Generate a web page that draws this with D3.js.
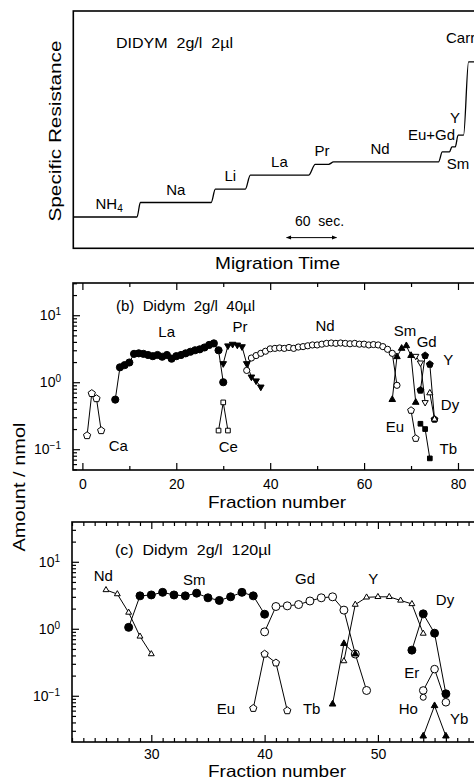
<!DOCTYPE html>
<html>
<head>
<meta charset="utf-8">
<script src="https://cdn.jsdelivr.net/npm/d3@7"></script>
<style>
  body { margin: 0; background: #fff; }
  svg { display: block; font-family: "Liberation Sans", Arial, Helvetica, sans-serif; }
</style>
</head>
<body>
<script>
// ---- (a) isotachopherogram: zones of the resistance trace ----
const zoneIons  = ['NH4', 'Na', 'Li', 'La', 'Pr', 'Nd', 'Sm', 'Eu+Gd', 'Y', 'Carrier']
const zoneStart = [0, 80.5, 170.5, 212.5, 290.5, 312.5, 443, 454.5, 462, 474.5]   // sec
const zoneEnd   = [76.5, 165.5, 206.5, 282.5, 306.5, 438.5, 451.5, 458.5, 468.5, 520]
const zoneLevel = [13.2, 19.3, 24.9, 30.8, 35.4, 36.4, 40.6, 42.7, 47.7, 78.6]     // arb. units
const scaleBarSec = [256, 316]

// ---- (b) Didym 2g/l 40ul : [fraction, amount nmol] ----
const caB = [[1, 0.16], [2, 0.68], [3, 0.57], [4, 0.19]]
const laB = [[7, 0.55], [8, 1.67], [9, 1.8], [10, 1.97], [11, 2.65], [12, 2.7], [13, 2.65], [14, 2.55],
             [15, 2.45], [16, 2.55], [17, 2.4], [18, 2.55], [19, 2.25], [20, 2.45], [21, 2.55], [22, 2.7],
             [23, 2.85], [24, 3.0], [25, 3.1], [26, 3.3], [27, 3.6], [28, 3.8], [29, 3.0], [30, 1.0]]
const ceB = [[29, 0.19], [30, 0.5], [31, 0.19]]
const prB = [[30, 1.9], [31, 3.5], [32, 3.7], [33, 3.6], [34, 3.4], [35, 1.9], [36, 1.2], [37, 1.05], [38, 0.85]]
const ndB = [[35, 1.5], [36, 2.3], [37, 2.5], [38, 2.7], [39, 2.9], [40, 3.15], [41, 3.2], [42, 3.25], [43, 3.2],
             [44, 3.3], [45, 3.2], [46, 3.35], [47, 3.4], [48, 3.5], [49, 3.6], [50, 3.6], [51, 3.7], [52, 3.8],
             [53, 3.85], [54, 3.8], [55, 3.85], [56, 3.8], [57, 3.75], [58, 3.8], [59, 3.7], [60, 3.7],
             [61, 3.6], [62, 3.65], [63, 3.6], [64, 3.4], [65, 3.1], [66, 2.7], [67, 0.9]]
const smB = [[66, 0.55], [67, 2.4], [68, 3.2], [69, 3.5], [70, 2.5], [71, 0.5]]
const gdB = [[71, 2.45], [72, 1.95], [73, 0.5]]
const gd2B = [[72, 0.76], [73, 2.5]]
const euB = [[70, 0.38], [71, 0.145]]
const tbB = [[72, 0.24], [73, 0.2], [74, 0.073]]
const yB  = [[74, 1.85], [75, 0.28]]
const dyB = [[74, 0.69], [75, 0.28]]

// ---- (c) Didym 2g/l 120ul ----
const ndC = [[26, 3.8], [27, 3.3], [28, 1.75], [29, 0.77], [30, 0.42]]
const smC = [[28, 1.05], [29, 3.1], [30, 3.2], [31, 3.5], [32, 3.2], [33, 3.1], [34, 3.4], [35, 2.9],
             [36, 2.65], [37, 3.0], [38, 3.5], [39, 3.1], [40, 1.65]]
const gdC = [[40, 0.9], [41, 2.15], [42, 2.2], [43, 2.3], [44, 2.6], [45, 2.9], [46, 3.0], [47, 1.9], [48, 0.42], [49, 0.12]]
const euC = [[39, 0.065], [40, 0.42], [41, 0.31], [42, 0.06]]
const tbC = [[46, 0.075], [47, 0.6], [48, 0.42]]
const yC  = [[47, 0.33], [48, 2.3], [49, 2.95], [50, 3.0], [51, 3.0], [52, 2.65], [53, 2.35], [54, 0.85]]
const dyC = [[53, 0.48], [54, 1.67], [55, 0.86], [56, 0.107]]
const erC = [[54, 0.12], [55, 0.25], [56, 0.08]]
const hoC = [[54, 0.095]]
const ybC = [[54, 0.025], [55, 0.071], [56, 0.025]]

const xTickLabelsB = [0, 20, 40, 60, 80]
const xTickLabelsC = [30, 40, 50]

const svg = d3.select('body').append('svg').attr('width', 474).attr('height', 781)

// marker shapes
const marker = (shape, r) => {
  if (shape === 'circle') return d3.symbol(d3.symbolCircle, Math.PI * r * r)()
  const n = { triUp: 3, triDown: 3, square: 4, pent: 5 }[shape]
  const rot = { triUp: -90, triDown: 90, square: 45, pent: -90 }[shape]
  const pts = d3.range(n).map(k => {
    const a = (rot + k * 360 / n) * Math.PI / 180
    return [r * Math.cos(a), r * Math.sin(a)]
  })
  return 'M' + pts.join('L') + 'Z'
}

// ================= panel (a) =================
const xA = d3.scaleLinear().domain([0, 500]).range([73.3, 73.3 + 500 * 0.833])
const yA = d3.scaleLinear().domain([0, 100]).range([248.3, 11])

svg.append('rect')
  .attr('x', xA(0)).attr('y', yA(100))
  .attr('width', xA(500) - xA(0)).attr('height', yA(0) - yA(100))
  .attr('fill', 'none').attr('stroke', '#000').attr('stroke-width', 1.6)

const tracePts = zoneIons.flatMap((z, i) => [[zoneStart[i], zoneLevel[i]], [zoneEnd[i], zoneLevel[i]]])
svg.append('path')
  .attr('d', d3.line().x(d => xA(d[0])).y(d => yA(d[1])).curve(d3.curveMonotoneX)(tracePts))
  .attr('fill', 'none').attr('stroke', '#000').attr('stroke-width', 1.3)

// zone labels
const labA = svg.append('g').attr('font-size', 15).attr('text-anchor', 'middle')
zoneIons.forEach((z, i) => {
  if (i > 5) return
  const t = labA.append('text')
    .attr('x', xA((zoneStart[i] + zoneEnd[i]) / 2) + (i === 0 ? 4 : i === 5 ? -6 : 0))
    .attr('y', yA(zoneLevel[i]) - 8)
  if (z === 'NH4') {
    t.text('NH')
    t.append('tspan').attr('font-size', 10).attr('dy', 3).text('4')
  } else t.text(z)
})
labA.append('text').attr('x', 458).attr('y', 168.5).text('Sm')
labA.append('text').attr('x', 431.5).attr('y', 140).text('Eu+Gd')
labA.append('text').attr('x', 455).attr('y', 122.5).text('Y')
labA.append('text').attr('x', 446).attr('y', 42.5).attr('text-anchor', 'start').text('Carrier')

svg.append('text').attr('x', 116).attr('y', 48).attr('font-size', 15)
  .attr('textLength', 117).attr('lengthAdjust', 'spacingAndGlyphs')
  .style('white-space', 'pre').text('DIDYM  2g/l  2\u00b5l')

// 60 sec scale bar
const ay = yA(4.5)
svg.append('defs').append('marker')
  .attr('id', 'ah').attr('viewBox', '0 0 10 10').attr('refX', 9).attr('refY', 5)
  .attr('markerWidth', 7).attr('markerHeight', 5).attr('orient', 'auto-start-reverse')
  .append('path').attr('d', 'M0,1L10,5L0,9Z').attr('fill', '#000')
svg.append('line')
  .attr('x1', xA(scaleBarSec[0])).attr('x2', xA(scaleBarSec[1])).attr('y1', ay).attr('y2', ay)
  .attr('stroke', '#000').attr('stroke-width', 1)
  .attr('marker-start', 'url(#ah)').attr('marker-end', 'url(#ah)')
svg.append('text').attr('x', xA(d3.mean(scaleBarSec)) + 8).attr('y', 226).attr('font-size', 14)
  .attr('text-anchor', 'middle').style('white-space', 'pre').text('60  sec.')

svg.append('text').attr('x', 277.5).attr('y', 269).attr('font-size', 17).attr('text-anchor', 'middle')
  .attr('textLength', 125).attr('lengthAdjust', 'spacingAndGlyphs').text('Migration  Time')
svg.append('text').attr('transform', 'translate(61,131) rotate(-90)').attr('font-size', 17)
  .attr('text-anchor', 'middle').attr('textLength', 181).attr('lengthAdjust', 'spacingAndGlyphs')
  .text('Specific  Resistance')

// ================= log panels =================
const logPanel = (cfg) => {
  const x = d3.scaleLinear().domain(cfg.xDomain).range([cfg.left, cfg.right])
  const y = d3.scaleLog().domain(cfg.yDomain).range([cfg.bottom, cfg.top])
  const g = svg.append('g')

  g.append('rect')
    .attr('x', cfg.left).attr('y', cfg.top)
    .attr('width', cfg.right - cfg.left).attr('height', cfg.bottom - cfg.top)
    .attr('fill', 'none').attr('stroke', '#000').attr('stroke-width', 1.6)

  const xt = d3.range(Math.ceil(cfg.xDomain[0] / cfg.xStep) * cfg.xStep, cfg.xDomain[1], cfg.xStep)
  const xMinor = xt.filter(v => v % cfg.xMajor !== 0)
  const xMajor = xt.filter(v => v % cfg.xMajor === 0)
  const cleanup = a => a.call(s => s.select('.domain').remove())
    .call(s => s.selectAll('line').attr('stroke-width', 1.2))

  ;[['bottom', cfg.bottom], ['top', cfg.top]].forEach(([side, pos]) => {
    const mk = side === 'bottom' ? d3.axisBottom : d3.axisTop
    g.append('g').attr('transform', `translate(0,${pos})`)
      .call(mk(x).tickValues(xMinor).tickSize(-4).tickFormat(''))
      .call(cleanup)
    const maj = g.append('g').attr('transform', `translate(0,${pos})`)
      .call(mk(x).tickValues(xMajor).tickSize(-7).tickPadding(cfg.xPad)
        .tickFormat(d => side === 'bottom' && cfg.xLabels.includes(d) ? d : ''))
      .call(cleanup)
    maj.attr('font-size', 14).attr('font-family', null)
  })

  const decades = d3.range(-2, 3).map(e => Math.pow(10, e))
  const yMinor = decades.flatMap(d => d3.range(2, 10).map(k => k * d))
    .filter(v => v > cfg.yDomain[0] && v < cfg.yDomain[1])
  const yMajor = decades.filter(v => v > cfg.yDomain[0] && v < cfg.yDomain[1])
  g.append('g').attr('transform', `translate(${cfg.left},0)`)
    .call(d3.axisLeft(y).tickValues(yMinor).tickSize(-4).tickFormat(''))
    .call(cleanup)
  const ya = g.append('g').attr('transform', `translate(${cfg.left},0)`)
    .call(d3.axisLeft(y).tickValues(yMajor).tickSize(-7).tickPadding(12).tickFormat(''))
    .call(cleanup)
  ya.attr('font-size', 14).attr('font-family', null)
  ya.selectAll('.tick text').each(function (d) {
    const t = d3.select(this)
    t.text('10')
    t.append('tspan').attr('dy', '-0.5em').attr('font-size', 10)
      .text(String(Math.round(Math.log10(d))).replace('-', '\u2212'))
  })

  const line = d3.line().x(d => x(d[0])).y(d => y(d[1]))
  cfg.series.forEach(s => {
    g.append('path').attr('d', line(s.data))
      .attr('fill', 'none').attr('stroke', '#000').attr('stroke-width', 1)
  })
  cfg.series.forEach(s => {
    g.append('g').selectAll('path').data(s.data).join('path')
      .attr('transform', d => `translate(${x(d[0])},${y(d[1])})`)
      .attr('d', marker(s.shape, s.r))
      .attr('fill', s.fill ? '#000' : '#fff')
      .attr('stroke', '#000').attr('stroke-width', 1)
  })

  const lab = g.append('g').attr('font-size', 15).attr('text-anchor', 'middle')
  cfg.labels.forEach(([txt, px, py]) => {
    lab.append('text').attr('x', px).attr('y', py).attr('dy', '0.36em').text(txt)
  })
  g.append('text').attr('x', cfg.left + 43).attr('y', cfg.titleY).attr('dy', '0.36em')
    .attr('font-size', 14.5).attr('textLength', cfg.titleLen).attr('lengthAdjust', 'spacingAndGlyphs')
    .style('white-space', 'pre').text(cfg.title)
  g.append('text').attr('x', 277).attr('y', cfg.xTitleY).attr('font-size', cfg.xTitleSize)
    .attr('text-anchor', 'middle').attr('textLength', 138).attr('lengthAdjust', 'spacingAndGlyphs')
    .text('Fraction  number')
}

logPanel({
  left: 73, right: 73 + 87 * 4.695, top: 283, bottom: 470,
  xDomain: [-2, 85], yDomain: [Math.pow(10, -1.31), Math.pow(10, 1.481)],
  xStep: 10, xMajor: 20, xLabels: xTickLabelsB, xPad: 9,
  title: '(b)  Didym  2g/l  40\u00b5l', titleLen: 139, titleY: 306, xTitleY: 508, xTitleSize: 17,
  series: [
    { data: caB, shape: 'pent', r: 3.8, fill: false },
    { data: laB, shape: 'circle', r: 3.6, fill: true },
    { data: ceB, shape: 'square', r: 3.3, fill: false },
    { data: prB, shape: 'triDown', r: 3.8, fill: true },
    { data: ndB, shape: 'circle', r: 3.1, fill: false },
    { data: smB, shape: 'triUp', r: 3.8, fill: true },
    { data: gdB, shape: 'triDown', r: 3.6, fill: false },
    { data: gd2B, shape: 'pent', r: 3.6, fill: true },
    { data: euB, shape: 'pent', r: 3.6, fill: false },
    { data: tbB, shape: 'square', r: 3.3, fill: true },
    { data: yB, shape: 'pent', r: 3.6, fill: true },
    { data: dyB, shape: 'triUp', r: 3.6, fill: false }
  ],
  labels: [['La', 166.7, 331.7], ['Pr', 240, 327], ['Nd', 325, 326], ['Sm', 405, 330.7],
           ['Gd', 426.7, 341.7], ['Y', 448.3, 360], ['Dy', 450, 405], ['Eu', 395, 426.7],
           ['Tb', 448.3, 448.3], ['Ca', 118.3, 446], ['Ce', 228.3, 446.7]]
})

logPanel({
  left: 72, right: 72 + 36 * 11.33, top: 522, bottom: 742,
  xDomain: [23, 59], yDomain: [Math.pow(10, -1.69), Math.pow(10, 1.594)],
  xStep: 1, xMajor: 10, xLabels: xTickLabelsC, xPad: 7,
  title: '(c)  Didym  2g/l  120\u00b5l', titleLen: 156, titleY: 550, xTitleY: 777.3, xTitleSize: 16.5,
  series: [
    { data: ndC, shape: 'triUp', r: 3.4, fill: false },
    { data: smC, shape: 'circle', r: 4, fill: true },
    { data: gdC, shape: 'circle', r: 4, fill: false },
    { data: euC, shape: 'pent', r: 3.8, fill: false },
    { data: tbC, shape: 'triUp', r: 3.8, fill: true },
    { data: yC, shape: 'triUp', r: 3.4, fill: false },
    { data: dyC, shape: 'circle', r: 4, fill: true },
    { data: erC, shape: 'circle', r: 3.8, fill: false },
    { data: hoC, shape: 'circle', r: 3, fill: false },
    { data: ybC, shape: 'triUp', r: 3.8, fill: true }
  ],
  labels: [['Nd', 103.3, 575.7], ['Sm', 194.3, 579.3], ['Gd', 305, 579], ['Y', 373.3, 579],
           ['Dy', 445, 599.3], ['Eu', 226, 708.3], ['Tb', 311.7, 709], ['Er', 411.7, 672.7],
           ['Ho', 408.3, 709], ['Yb', 459.3, 718.3]]
})

svg.append('text').attr('transform', 'translate(25,487) rotate(-90)').attr('font-size', 17)
  .attr('text-anchor', 'middle').attr('textLength', 129).attr('lengthAdjust', 'spacingAndGlyphs')
  .text('Amount  /  nmol')
</script>
</body>
</html>
